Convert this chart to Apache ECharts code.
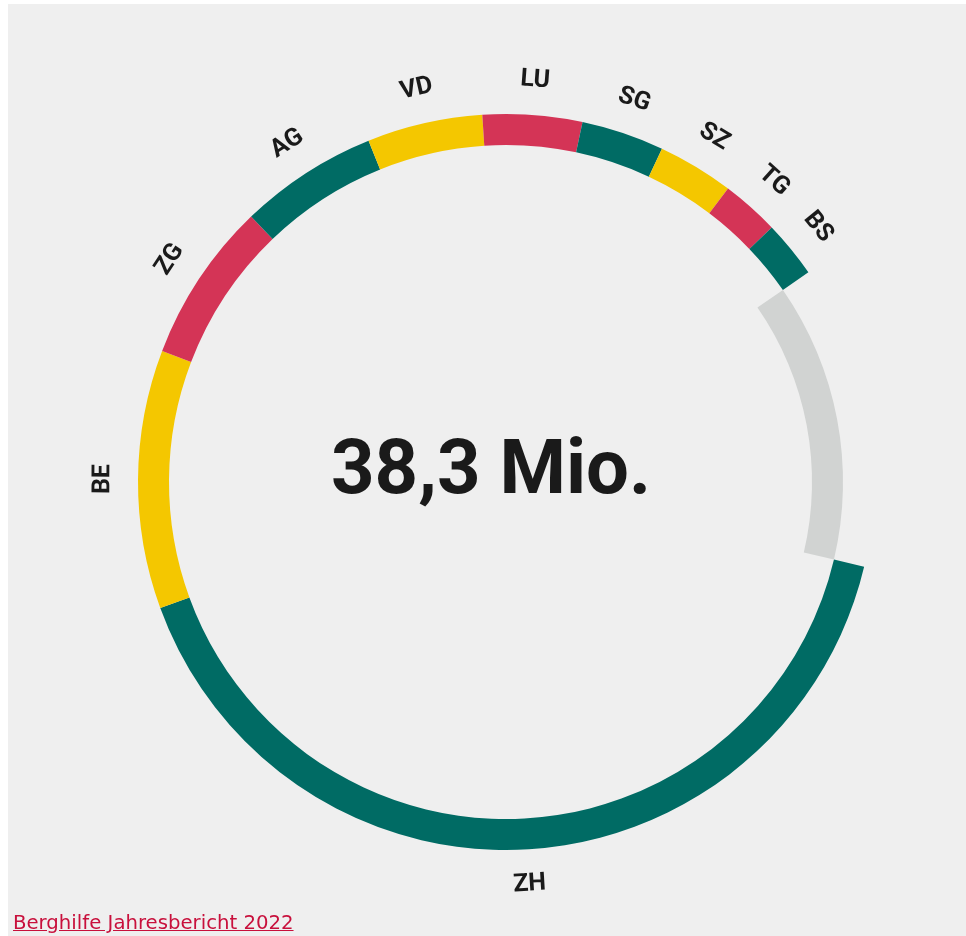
<!DOCTYPE html>
<html>
<head>
<meta charset="utf-8">
<script src="https://cdn.jsdelivr.net/npm/echarts@6/dist/echarts.min.js"></script>
<style>
  html, body { margin: 0; padding: 0; background: #fff; }
  #chart { position: absolute; left: 8px; top: 4px; width: 958px; height: 932px; }
  #source {
    position: absolute; left: 13px; top: 911px;
    font-family: 'DejaVu Sans', sans-serif; font-size: 19.7px;
    color: #c8103c; text-decoration: underline;
  }
</style>
</head>
<body>
<div id="chart"></div>
<a id="source" href="#">Berghilfe Jahresbericht 2022</a>
<script>
// Beiträge nach Kanton (Mio. CHF), im Uhrzeigersinn ab ZH
const cantons = ['ZH', 'BE', 'ZG', 'AG', 'VD', 'LU', 'SG', 'SZ', 'TG', 'BS']
const amounts = [15.6, 4.35, 2.69, 2.33, 1.94, 1.67, 1.39, 1.28, 0.97, 0.96]
const otherAmount = 5.11
const totalLabel = '38,3 Mio.'

const teal = '#006b64'
const yellow = '#f4c700'
const red = '#d43456'
const grey = '#d1d3d2'
const palette = [teal, yellow, red]

const center = [498, 478]
const startAngle = -13.3
const none = 'rgba(0,0,0,0)'

const chart = echarts.init(document.getElementById('chart'))

const ringData = cantons.map((name, i) => ({
  value: amounts[i], name: name, itemStyle: { color: palette[i % 3] }
}))
ringData.push({ value: otherAmount, name: 'rest', itemStyle: { color: none }})

const greyData = cantons.map((name, i) => ({
  value: amounts[i], name: name, itemStyle: { color: none }
}))
greyData.push({ value: otherAmount, name: 'rest', itemStyle: { color: grey }})

const labelData = cantons.map((name, i) => ({
  value: amounts[i], name: name, itemStyle: { color: none }
}))
labelData.push({ value: otherAmount, name: 'rest', itemStyle: { color: none }, label: { show: false }})

const common = {
  type: 'pie',
  center: center,
  startAngle: startAngle,
  clockwise: true,
  silent: true,
  avoidLabelOverlap: false,
  emphasis: { disabled: true },
  labelLine: { show: false }
}

chart.setOption({
  backgroundColor: '#efefef',
  animation: false,
  graphic: [{
    type: 'text',
    x: 483,
    y: 470,
    style: {
      text: totalLabel,
      fontFamily: 'Roboto',
      fontWeight: 'bold',
      fontSize: 76,
      fill: '#1a1a1a',
      textAlign: 'center',
      textVerticalAlign: 'middle'
    }
  }],
  series: [
    Object.assign({}, common, {
      radius: [337, 368],
      label: { show: false },
      data: ringData
    }),
    Object.assign({}, common, {
      radius: [306, 337],
      label: { show: false },
      data: greyData
    }),
    Object.assign({}, common, {
      radius: [388, 412],
      label: {
        show: true,
        position: 'inside',
        rotate: 'tangential',
        formatter: '{b}',
        fontFamily: 'Roboto',
        fontWeight: 'bold',
        fontSize: 25,
        color: '#1a1a1a'
      },
      data: labelData
    })
  ]
})
</script>
</body>
</html>
